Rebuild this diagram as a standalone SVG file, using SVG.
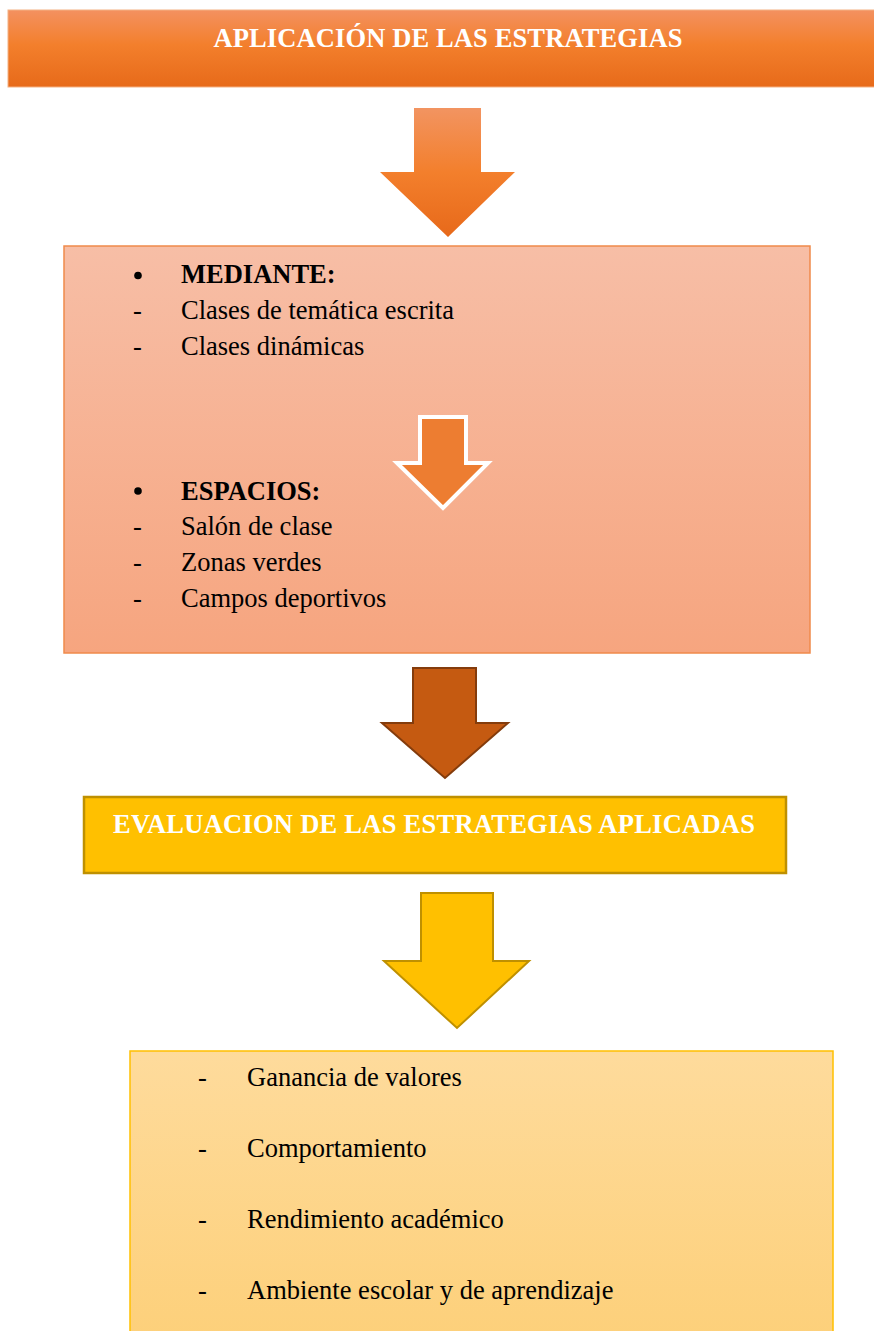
<svg xmlns="http://www.w3.org/2000/svg" width="874" height="1331" viewBox="0 0 874 1331">
<defs>
<linearGradient id="gTop" x1="0" y1="0" x2="0" y2="1"><stop offset="0" stop-color="#f39160"/><stop offset="0.45" stop-color="#f37f2c"/><stop offset="1" stop-color="#e76a1a"/></linearGradient>
<linearGradient id="gA1" x1="0" y1="0" x2="0" y2="1"><stop offset="0" stop-color="#f29461"/><stop offset="0.5" stop-color="#f37f2c"/><stop offset="1" stop-color="#e7691a"/></linearGradient>
<linearGradient id="gBox2" x1="0" y1="0" x2="0" y2="1"><stop offset="0" stop-color="#f7bea6"/><stop offset="1" stop-color="#f6a57f"/></linearGradient>
<linearGradient id="gBox5" x1="0" y1="0" x2="0" y2="1"><stop offset="0" stop-color="#fedb9c"/><stop offset="1" stop-color="#fdd07a"/></linearGradient>
</defs>
<style>
text{font-family:"Liberation Serif","Times New Roman",serif;font-size:26.5px;fill:#000}
.title{font-weight:bold;fill:#fff;text-anchor:middle}
.b{font-weight:bold}
</style>
<g id="node-aplicacion">
<rect x="8" y="10" width="870" height="77" fill="url(#gTop)" stroke="#f4b183" stroke-width="1"/>
<text class="title" x="448" y="47" textLength="469">APLICACIÓN DE LAS ESTRATEGIAS</text>
</g>
<g id="connectors">
<polygon points="414,108 481,108 481,172 515,172 448,237 380,172 414,172" fill="url(#gA1)"/>
<polygon points="413,668 476,668 476,723 508,723 445,778 382,723 413,723" fill="#c55a11" stroke="#843c0c" stroke-width="2"/>
<polygon points="421,893 493,893 493,961 529,961 457,1028 384,961 421,961" fill="#ffc000" stroke="#bf9000" stroke-width="2"/>
</g>
<g id="node-mediante">
<rect x="64" y="246" width="746" height="407" fill="url(#gBox2)" stroke="#f08a4b" stroke-width="1.5"/>
<circle cx="138" cy="275.5" r="3.8" fill="#000"/>
<text class="b" x="181" y="283">MEDIANTE:</text>
<text x="133" y="319">-</text><text x="181" y="319">Clases de temática escrita</text>
<text x="133" y="355">-</text><text x="181" y="355">Clases dinámicas</text>
<polygon points="420,417 466,417 466,463 488,463 443,508 397,463 420,463" fill="#ed7d31" stroke="#fff" stroke-width="4"/>
<circle cx="138" cy="491" r="3.8" fill="#000"/>
<text class="b" x="181" y="500">ESPACIOS:</text>
<text x="133" y="535">-</text><text x="181" y="535">Salón de clase</text>
<text x="133" y="571">-</text><text x="181" y="571">Zonas verdes</text>
<text x="133" y="607">-</text><text x="181" y="607">Campos deportivos</text>
</g>
<g id="node-evaluacion">
<rect x="84" y="797" width="702" height="76" fill="#ffc000" stroke="#bf9000" stroke-width="2.5"/>
<text class="title" x="434" y="833" textLength="642">EVALUACION DE LAS ESTRATEGIAS APLICADAS</text>
</g>
<g id="node-resultados">
<rect x="130" y="1051" width="703" height="290" fill="url(#gBox5)" stroke="#ffc000" stroke-width="1.5"/>
<text x="198" y="1086">-</text><text x="247" y="1086">Ganancia de valores</text>
<text x="198" y="1157">-</text><text x="247" y="1157">Comportamiento</text>
<text x="198" y="1228">-</text><text x="247" y="1228">Rendimiento académico</text>
<text x="198" y="1299">-</text><text x="247" y="1299">Ambiente escolar y de aprendizaje</text>
</g>
</svg>
